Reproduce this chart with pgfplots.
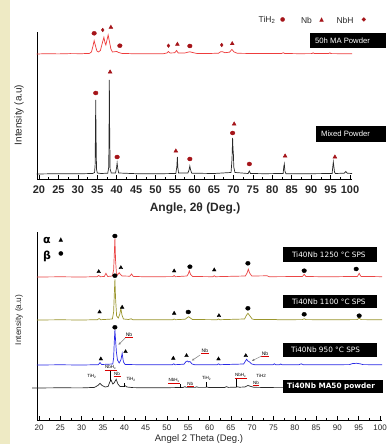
\documentclass[border=0pt]{standalone}
\usepackage{pgfplots}
\pgfplotsset{compat=1.18}
\usepackage{fontspec}
\setmainfont{Liberation Sans}
\newfontfamily\dejavu{DejaVu Sans}
\usetikzlibrary{arrows.meta}
\definecolor{beige}{RGB}{238,234,196}
\definecolor{mred}{RGB}{165,20,25}
\definecolor{tred}{RGB}{238,60,60}
\definecolor{bred}{RGB}{235,70,70}
\definecolor{olive2}{RGB}{155,150,45}
\definecolor{bblue}{RGB}{40,40,230}
\definecolor{tgray}{RGB}{40,40,40}
\newcommand\fs[1]{\fontsize{#1}{#1}\selectfont}
\tikzset{redul/.style={inner sep=0.4pt, append after command={(\tikzlastnode.south west) edge[draw=red!85!black, line width=0.3pt] (\tikzlastnode.south east)}}}
\begin{document}
\begin{tikzpicture}
\path[use as bounding box] (0,0) rectangle (386pt,444pt);
\clip (0,0) rectangle (386pt,444pt);
\fill[white] (0,0) rectangle (386pt,444pt);
\fill[beige] (0,0) rectangle (10pt,444pt);

%================ TOP PANEL =================
\begin{axis}[
  at={(37pt,265pt)}, anchor=south west, scale only axis,
  width=315pt, height=147pt,
  xmin=19.5, xmax=100.5, ymin=0, ymax=147,
  axis x line=bottom, axis y line=left,
  axis line style={-, line width=0.8pt, black},
  ytick=\empty, xtick={20,25,...,100}, minor x tick num=1,
  tick align=inside, major tick length=4pt, minor tick length=2pt,
  tick style={black, line width=0.6pt},
  xticklabel style={font=\bfseries\fs{11}, text=tgray, yshift=-3pt},
  /pgf/number format/assume math mode=true,
  clip=false,
]
% Mixed powder (black)
\addplot[tgray, line width=0.7pt] coordinates {
(19.4,5)(25,5.3)(30,5.2)(33.8,5.5)(34.3,6.5)(34.45,14)(34.55,55)(34.6,79)(34.68,45)(34.8,10)(35,6)(36,5.5)(37.7,5.8)(37.95,12)(38.05,60)(38.1,99)(38.17,55)(38.3,10)(38.6,6)(39.7,6)(39.95,11)(40.1,16)(40.25,11)(40.5,6)(45,5.3)(50,5.2)(55.2,5.5)(55.45,12)(55.6,22)(55.7,12)(55.9,6)(58.3,6)(58.6,9)(58.8,13)(59.0,9)(59.3,5.8)(65,5.5)(69.4,6.5)(69.65,20)(69.8,41)(69.9,30)(70.0,25)(70.1,12)(70.4,6.5)(73.8,5.5)(74.1,8)(74.4,5.5)(78,5.3)(82.8,5.5)(82.95,12)(83.1,15)(83.25,8)(83.5,5.3)(90,5.3)(95.4,5.5)(95.55,12)(95.7,17)(95.85,12)(96.0,7)(96.2,5.5)(98.5,5.8)(98.9,7.5)(99.3,5.8)(100.5,5.5)
};
% 50h MA powder (red)
\addplot[tred, line width=0.7pt] coordinates {
(19.4,125)(22,125.3)(25,125.1)(28,125.4)(31,125.3)(33.0,125.6)(33.5,127)(33.9,133)(34.2,138.3)(34.55,133)(34.9,128)(35.3,127)(35.8,128.5)(36.3,136)(36.7,141.7)(37.0,136)(37.2,134)(37.5,139)(37.8,144)(38.1,138)(38.5,130)(38.9,127)(39.5,127.3)(40.0,127.5)(40.5,126.5)(41.3,125.6)(44,125.3)(48,125.2)(52,125.3)(52.9,126)(53.3,127.5)(53.7,126)(54.9,126.2)(55.4,128.5)(55.8,126)(57.5,126)(58.3,126.8)(58.8,127.2)(59.5,126.5)(60.5,125.6)(63,125.4)(66.2,125.8)(66.7,127.2)(67.2,127.3)(67.8,126.3)(69.0,126.8)(69.6,129.5)(70.2,127)(71,125.7)(75,125.5)(78,125.5)(82.4,125.5)(82.8,126.3)(83.2,125.5)(87,125.3)(90.2,125.4)(90.5,126.2)(90.8,125.4)(94.5,125.4)(94.8,126.2)(95.1,125.4)(100.5,125.2)
};
% markers
\addplot[only marks, mark=*, mark size=2.0pt, color=mred, mark options={xscale=1.15}] coordinates {
(34.6,86)(40.1,22)(58.8,20)(69.8,46)(74.1,15)
(34.2,145.7)(40.8,133.3)(58.8,133)
};
\addplot[only marks, mark=triangle*, mark size=2.2pt, color=mred] coordinates {
(38.3,107)(55.2,28)(70.2,55)(83.3,23)(96.1,22)
(38.5,151.7)(55.6,134.7)(69.7,135.3)
};
\addplot[only marks, mark=diamond*, mark size=1.8pt, color=mred] coordinates {
(36.4,149)(53.3,133.3)(67.0,134)
};
\end{axis}

%================ BOTTOM PANEL =================
\begin{axis}[
  at={(36.9pt,24pt)}, anchor=south west, scale only axis,
  width=345.3pt, height=188pt,
  xmin=19.5, xmax=100.5, ymin=0, ymax=188,
  axis x line=bottom, axis y line=left,
  axis line style={-, line width=0.8pt, black},
  ytick=\empty, xtick={20,25,...,100}, minor x tick num=1,
  tick align=inside, major tick length=4pt, minor tick length=2pt,
  tick style={black, line width=0.6pt},
  xticklabel style={font=\fs{8}, text=tgray, yshift=-1.5pt},
  /pgf/number format/assume math mode=true,
  clip=false,
]
% 1250 (red)
\addplot[bred, line width=0.7pt] coordinates {
(19.5,143)(25,143.2)(30,143)(33.6,143.3)(34.0,144.5)(34.4,143.3)(35.3,143.5)(35.7,146.7)(36.1,143.5)(37.2,144)(37.5,150)(37.65,165)(37.8,181.7)(37.95,160)(38.15,147)(38.4,145)(38.8,147.3)(39.1,145.5)(39.5,144)(41.3,143.8)(41.7,146)(42.1,143.6)(45,143.2)(51.4,143.4)(51.7,144.5)(52,143.3)(54.7,144)(55.0,146)(55.25,149.3)(55.55,145.5)(56,143.5)(60.8,143.3)(61.1,144.3)(61.4,143.3)(68.4,144)(68.8,147)(69.1,150.7)(69.4,147)(69.9,144)(73.5,144.2)(74,143.3)(81.8,143.5)(82.2,145.7)(82.6,143.5)(88,143.2)(94.7,143.6)(95.1,146.7)(95.5,143.6)(100.5,143.3)
};
% 1100 (olive)
\addplot[olive2, line width=0.7pt] coordinates {
(19.5,100)(25,100.2)(30,100)(33.7,100.3)(34.1,101.5)(34.5,100.3)(37.2,101)(37.5,108)(37.65,125)(37.8,140.7)(37.95,122)(38.2,104)(38.6,102)(38.95,106)(39.2,111.7)(39.45,105)(39.8,101)(41,100.5)(41.6,101.2)(42,100.3)(45,100.2)(51.4,100.3)(51.7,101)(52,100.3)(54.3,100.8)(54.8,102.5)(55.1,103.3)(55.5,102)(56,100.5)(61.8,100.3)(62.1,101)(62.4,100.3)(68.2,101)(68.7,105)(69.0,106.7)(69.4,104.5)(70,101)(70.6,100.4)(75.5,100.6)(76,100.2)(81.8,100.4)(82.2,101.3)(82.6,100.4)(88,100.2)(94.6,100.4)(95.1,101.7)(95.6,100.4)(100.5,100.2)
};
% 950 (blue)
\addplot[bblue, line width=0.7pt] coordinates {
(19.5,55)(25,55.2)(30,55)(33.9,55.3)(34.3,57.3)(34.7,55.5)(37.3,56)(37.5,62)(37.65,78)(37.8,90)(37.95,80)(38.15,68)(38.4,60)(38.8,57)(39.2,60)(39.5,66.7)(39.8,58)(40.2,55.5)(45,55.2)(51.3,55.3)(51.6,56.2)(51.9,55.3)(54.0,55.8)(54.5,58.5)(54.8,59)(55.1,58)(55.4,58.5)(55.9,56)(56.5,55.3)(61.8,55.3)(62.1,56.2)(62.4,55.3)(68.0,56)(68.5,59.5)(68.7,60.7)(69.0,59)(69.4,58)(69.9,56)(70.6,55.3)(74.9,55.3)(75.2,56.2)(75.5,55.3)(76.4,55.3)(76.7,56)(77,55.3)(81,55.3)(81.5,56.2)(82,55.3)(88,55.2)(92.8,55.4)(93.5,56.4)(94.5,56.7)(95.3,56.2)(96,55.4)(100.5,55.2)
};
% MA50 powder (black)
\addplot[tgray, line width=0.7pt] coordinates {
(18.4,32)(25,32.2)(30,32.1)(33.0,32.6)(33.8,34.5)(34.3,36.7)(34.8,34.5)(35.5,33)(36.2,33.5)(36.6,38)(36.9,40)(37.3,36)(37.6,37)(38.1,40.7)(38.5,36)(39.0,33.5)(39.8,33.4)(40.2,34.3)(40.6,33)(42,32.4)(45,32.2)(50,32.3)(53.8,32.5)(54.2,33.3)(54.6,32.6)(56.6,32.6)(57.0,33.2)(57.4,32.6)(59,32.6)(59.4,33)(59.8,32.5)(63.6,32.6)(64.0,33.4)(64.4,32.6)(66.2,32.8)(66.6,33.2)(67,32.8)(68.3,33)(69.0,34.5)(69.7,33.5)(70.4,32.7)(75,32.4)(80,32.3)(85,32.2)(90,32.2)(95,32.2)(100.5,32.2)
};
% alpha (triangles) and beta (circles)
\addplot[only marks, mark=triangle*, mark size=2.1pt, black] coordinates {
(34.0,148.3)(39.2,152.3)(51.7,149)(61.1,150)
(34.2,108)(39.5,112.7)(51.7,106.7)(62.2,104.3)
(34.5,61)(40.3,68.3)(51.5,61.7)(54.6,64.3)(62.1,61)(68.5,64.3)
};
\addplot[only marks, mark=*, mark size=2.0pt, black, mark options={xscale=1.15}] coordinates {
(37.8,184)(55.4,153.3)(69.0,156.7)(82.2,149.3)(94.4,151)
(37.8,144.3)(55.0,108)(69.0,111.7)(82.2,105.7)(95.1,104.3)
(37.8,92.7)
};
% reference sticks under the MA50 pattern
\draw[black, line width=0.6pt] (axis cs:36.65,39.3) -- (axis cs:36.65,49.3);
\draw[black, line width=0.6pt] (axis cs:39.9,33.3) -- (axis cs:39.9,36.7);
\draw[black, line width=0.6pt] (axis cs:53.1,32.2) -- (axis cs:53.1,35.7);
\draw[black, line width=0.6pt] (axis cs:59.3,33) -- (axis cs:59.3,38.3);
\draw[black, line width=0.6pt] (axis cs:66.2,32.5) -- (axis cs:66.2,41.7);
% phase labels
\node[font=\fs{4.5}, inner sep=0.4pt] at (axis cs:32.4,43.3) {TiH\textsubscript{2}};
\node[font=\fs{4.5}, redul] at (axis cs:36.8,52.3) {NbH\textsubscript{x}};
\node[font=\fs{4.5}, redul] at (axis cs:38.3,46) {Nb};
\node[font=\fs{4.5}, inner sep=0.4pt] at (axis cs:41.6,40.7) {TiH\textsubscript{2}};
\node[font=\fs{4.5}, redul] at (axis cs:51.7,40) {NbH\textsubscript{x}};
\node[font=\fs{4.5}, redul] at (axis cs:55.5,36) {Nb};
\node[font=\fs{4.5}, inner sep=0.4pt] at (axis cs:59.3,41.7) {TiH\textsubscript{2}};
\node[font=\fs{4.5}, redul] at (axis cs:67.3,44.3) {NbH\textsubscript{x}};
\node[font=\fs{4.5}, inner sep=0.4pt] at (axis cs:72.1,44) {TiH2};
\node[font=\fs{4.5}, redul] at (axis cs:70.9,37.3) {Nb};
% Nb arrows on 950 pattern
\node[font=\fs{5}, redul] at (axis cs:41.1,85) {Nb};
\node[font=\fs{5}, redul] at (axis cs:58.9,69) {Nb};
\node[font=\fs{5}, redul] at (axis cs:73.0,66.7) {Nb};
\draw[gray, line width=0.5pt, -{Latex[length=2.5pt,width=2.5pt,open]}] (axis cs:40.2,82) -- (axis cs:38.6,75);
\draw[gray, line width=0.5pt, -{Latex[length=2.5pt,width=2.5pt,open]}] (axis cs:57.8,65) -- (axis cs:55.8,59.3);
\draw[gray, line width=0.5pt, -{Latex[length=2.5pt,width=2.5pt,open]}] (axis cs:72.2,64) -- (axis cs:69.9,59);
\end{axis}

%================ ANNOTATIONS =================
\begin{scope}[x=1pt,y=1pt]
% top legend
\node[font=\fs{8.5}, text=tgray] at (267,424) {TiH\textsubscript{2}};
\node[font=\dejavu\fs{6}, text=mred] at (282.7,424.5) {●};
\node[font=\fs{8.5}, text=tgray] at (306.5,424) {Nb};
\node[font=\dejavu\fs{6}, text=mred] at (321.7,424.5) {▲};
\node[font=\fs{8.5}, text=tgray] at (345,424) {NbH};
\node[font=\dejavu\fs{6}, text=mred] at (364,424.5) {◆};
% boxes top
\fill[black] (310,396) rectangle (386,411);
\node[font=\fs{7.7}, text=white] at (342.5,403.5) {50h MA Powder};
\fill[black] (316,302) rectangle (386,318);
\node[font=\fs{7.7}, text=white] at (345.5,310) {Mixed Powder};
% top axis labels
\node[font=\fs{10}, text=tgray, rotate=90] at (19,329) {Intensity (a.u)};
\node[font=\bfseries\fs{12}, text=tgray] at (195,236) {Angle, 2θ (Deg.)};
% bottom legend
\node[font=\dejavu\bfseries\fs{11}] at (47,204) {α};
\node[font=\dejavu\fs{6}] at (61,204.5) {▲};
\node[font=\dejavu\bfseries\fs{11}] at (47,188) {β};
\node[font=\dejavu\fs{6}] at (61,190) {●};
% boxes bottom
\fill[black] (282.7,182.3) rectangle (376.7,196.7);
\node[font=\dejavu\fs{7.3}, text=white] at (328.8,189.5) {Ti40Nb 1250 °C SPS};
\fill[black] (282.7,135.7) rectangle (376.7,149);
\node[font=\dejavu\fs{7.3}, text=white] at (328.8,142.3) {Ti40Nb 1100 °C SPS};
\fill[black] (282.7,87.3) rectangle (376.7,101.3);
\node[font=\dejavu\fs{7.3}, text=white] at (325.5,94.3) {Ti40Nb 950 °C SPS};
\fill[black] (282.7,50.7) rectangle (383.3,64);
\node[font=\dejavu\bfseries\fs{7.3}, text=white] at (331,57.3) {Ti40Nb MA50 powder};
% bottom axis labels
\node[font=\fs{8.3}, text=tgray, rotate=90] at (19,124) {Intensity (a.u)};
\node[font=\fs{9.5}, text=tgray, inner sep=0.5pt, anchor=base] at (199,2.6) {Angel 2 Theta (Deg.)};
\end{scope}
\end{tikzpicture}
\end{document}
